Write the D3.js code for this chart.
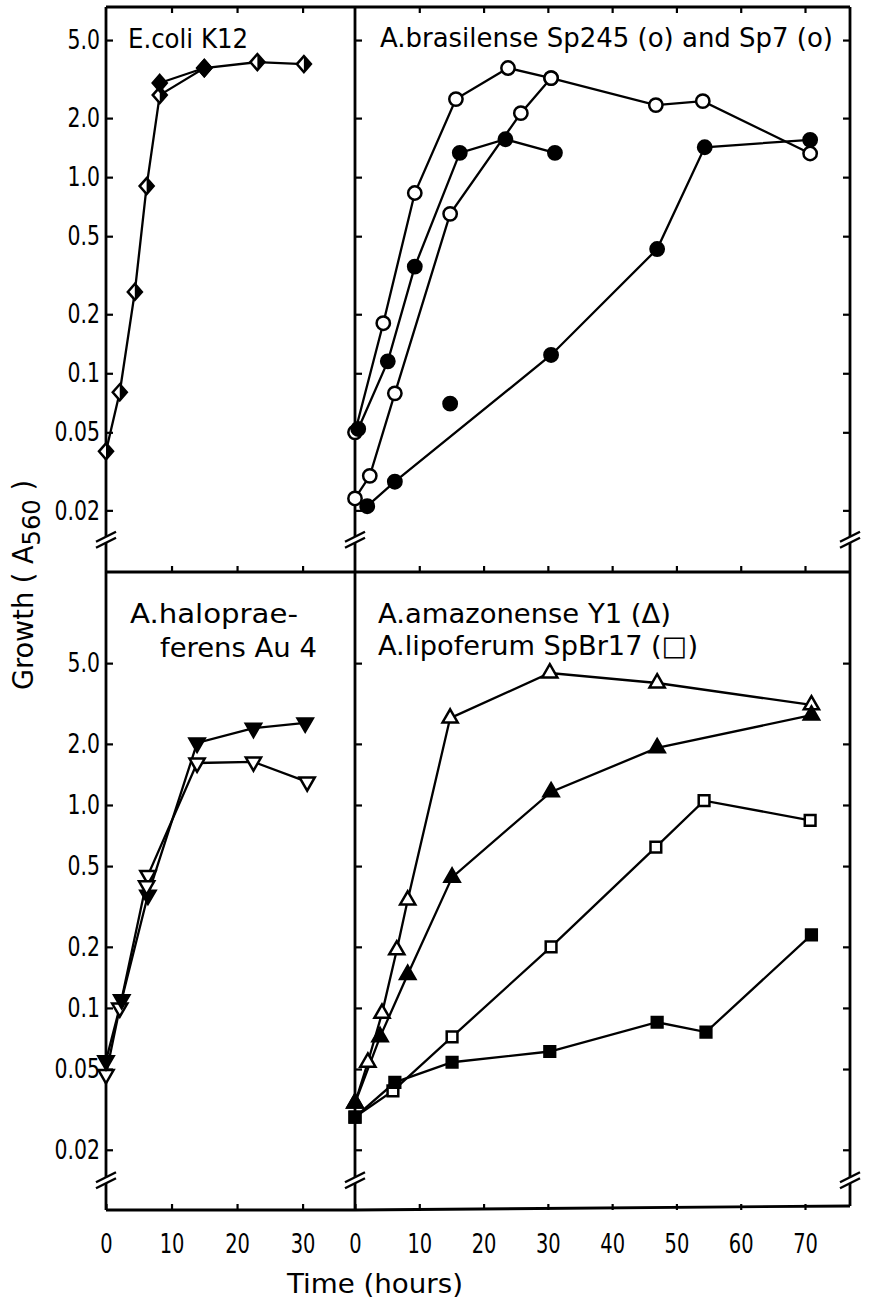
<!DOCTYPE html>
<html>
<head>
<meta charset="utf-8">
<script src="https://cdn.jsdelivr.net/npm/d3@7"></script>
<style>
  body { margin: 0; background: #fff; }
  svg text { font-family: "Liberation Sans Narrow", "DejaVu Sans Condensed", "DejaVu Sans", sans-serif; fill: #000; }
</style>
</head>
<body>
<svg id="chart" width="869" height="1299"></svg>
<script>
// E. coli K12 (half-filled diamonds, plus one filled diamond)
const ecoliHours = [0, 2.1, 4.4, 6.2, 8.2, 15, 23.1, 30.2]
const ecoliGrowth = [0.04, 0.08, 0.26, 0.9, 2.62, 3.6, 3.86, 3.77]
const ecoliBHours = [8.2, 15]
const ecoliBGrowth = [3.02, 3.6]

// A. brasilense Sp245 / Sp7
const brasOpen1Hours = [0, 4.4, 9.3, 15.7, 23.8, 30.5, 46.8, 54.1, 70.8]
const brasOpen1Growth = [0.05, 0.18, 0.83, 2.5, 3.6, 3.2, 2.33, 2.44, 1.32]
const brasOpen2Hours = [0, 2.3, 6.2, 14.8, 25.8, 30.5]
const brasOpen2Growth = [0.023, 0.03, 0.079, 0.65, 2.12, 3.2]
const brasFilled1Hours = [0.5, 5.1, 9.3, 16.3, 23.4, 31.1]
const brasFilled1Growth = [0.052, 0.115, 0.35, 1.33, 1.56, 1.33]
const brasFilled2Hours = [1.9, 6.2, 30.5, 47, 54.4, 70.8]
const brasFilled2Growth = [0.021, 0.028, 0.124, 0.43, 1.42, 1.55]
const brasLoneHours = [14.8]
const brasLoneGrowth = [0.07]

// A. halopraeferens Au4
const haloFilledHours = [0, 2.4, 6.4, 13.9, 22.5, 30.4]
const haloFilledGrowth = [0.055, 0.11, 0.36, 2.02, 2.39, 2.54]
const haloOpenHours = [0, 2.1, 6.4, 13.9, 22.5, 30.7]
const haloOpenGrowth = [0.047, 0.1, 0.45, 1.61, 1.63, 1.3]
const haloExtraHours = [6.2]
const haloExtraGrowth = [0.4]

// A. amazonense Y1 (triangles) and A. lipoferum SpBr17 (squares)
const amazOpenHours = [0, 2.0, 4.2, 6.5, 8.2, 14.8, 30.3, 47, 71]
const amazOpenGrowth = [0.034, 0.054, 0.094, 0.193, 0.34, 2.68, 4.47, 3.99, 3.11]
const amazFilledHours = [0, 3.9, 8.2, 15.1, 30.5, 47, 71]
const amazFilledGrowth = [0.034, 0.072, 0.146, 0.44, 1.16, 1.91, 2.77]
const lipoOpenHours = [0, 5.9, 15.1, 30.5, 46.8, 54.3, 70.8]
const lipoOpenGrowth = [0.029, 0.039, 0.072, 0.2, 0.62, 1.05, 0.84]
const lipoFilledHours = [0, 6.2, 15.1, 30.3, 47, 54.6, 71]
const lipoFilledGrowth = [0.029, 0.043, 0.054, 0.061, 0.085, 0.076, 0.229]

// ticks
const yTickValues = [0.02, 0.05, 0.1, 0.2, 0.5, 1, 2, 5]
const yTickLabels = ['0.02', '0.05', '0.1', '0.2', '0.5', '1.0', '2.0', '5.0']
const xTicksLeft = [0, 10, 20, 30]
const xTicksRight = [0, 10, 20, 30, 40, 50, 60, 70]
const breakValue = 0.014

const frameLeft = 106
const frameMid = 355
const frameRight = 850
const frameTop = 7
const frameSplit = 572
const frameBottom = 1210

const svg = d3.select('#chart')

const xLeft = d3.scaleLinear().domain([0, 38]).range([frameLeft, frameMid])
const xRight = d3.scaleLinear().domain([0, 77]).range([frameMid, frameRight])
const yTop = d3.scaleLog().domain([0.0097, 7.37]).range([frameSplit, frameTop])
const yBottom = d3.scaleLog().domain([0.0101, 14.06]).range([frameBottom, frameSplit])

const zip = (ts, vs) => ts.map((t, i) => ({t, v: vs[i]}))

const panels = [
  {x: xLeft, y: yTop, series: [
    {data: zip(ecoliHours, ecoliGrowth), mark: 'diamondHalf'},
    {data: zip(ecoliBHours, ecoliBGrowth), mark: 'diamondFilled'}
  ]},
  {x: xRight, y: yTop, series: [
    {data: zip(brasOpen1Hours, brasOpen1Growth), mark: 'circleOpen'},
    {data: zip(brasOpen2Hours, brasOpen2Growth), mark: 'circleOpen'},
    {data: zip(brasFilled1Hours, brasFilled1Growth), mark: 'circleFilled'},
    {data: zip(brasFilled2Hours, brasFilled2Growth), mark: 'circleFilled'},
    {data: zip(brasLoneHours, brasLoneGrowth), mark: 'circleFilled', noLine: true}
  ]},
  {x: xLeft, y: yBottom, series: [
    {data: zip(haloOpenHours, haloOpenGrowth), mark: 'triDownOpen'},
    {data: zip(haloFilledHours, haloFilledGrowth), mark: 'triDownFilled'},
    {data: zip(haloExtraHours, haloExtraGrowth), mark: 'triDownOpen', noLine: true}
  ]},
  {x: xRight, y: yBottom, series: [
    {data: zip(amazOpenHours, amazOpenGrowth), mark: 'triUpOpen'},
    {data: zip(amazFilledHours, amazFilledGrowth), mark: 'triUpFilled'},
    {data: zip(lipoOpenHours, lipoOpenGrowth), mark: 'squareOpen'},
    {data: zip(lipoFilledHours, lipoFilledGrowth), mark: 'squareFilled'}
  ]}
]

// squeeze text horizontally so it looks like the narrow typeface of the original
const squeeze = ratio => sel => sel.each(function () {
  const w = this.getComputedTextLength()
  if (w > 0) d3.select(this).attr('textLength', w * ratio).attr('lengthAdjust', 'spacingAndGlyphs')
})

// frame
const frameLines = [
  [frameLeft, frameTop, frameLeft, frameBottom],
  [frameMid, frameTop, frameMid, frameBottom],
  [frameRight, frameTop, frameRight, frameBottom - 4],
  [frameLeft, frameTop, frameRight, frameTop],
  [frameLeft, frameSplit, frameRight, frameSplit],
  [frameLeft, frameBottom, frameMid, frameBottom],
  [frameMid, frameBottom, frameRight, frameBottom - 4]
]
svg.append('g')
  .selectAll('line')
  .data(frameLines)
  .enter()
  .append('line')
  .attr('x1', d => d[0]).attr('y1', d => d[1])
  .attr('x2', d => d[2]).attr('y2', d => d[3])
  .attr('stroke', '#000')
  .attr('stroke-width', 2.8)

const styleAxis = g => {
  g.select('.domain').remove()
  g.selectAll('line').attr('stroke-width', 2.2)
  g.attr('font-size', 27)
}

// y axes
;[yTop, yBottom].forEach(y => {
  svg.append('g')
    .attr('transform', `translate(${frameLeft},0)`)
    .call(d3.axisLeft(y).tickValues(yTickValues).tickFormat((d, i) => yTickLabels[i])
      .tickSizeInner(-7).tickSizeOuter(0).tickPadding(6))
    .call(styleAxis)
    .call(g => g.selectAll('text').call(squeeze(0.84)))
  svg.append('g')
    .attr('transform', `translate(${frameMid},0)`)
    .call(d3.axisRight(y).tickValues(yTickValues).tickFormat('').tickSize(7))
    .call(styleAxis)
  svg.append('g')
    .attr('transform', `translate(${frameRight},0)`)
    .call(d3.axisLeft(y).tickValues(yTickValues).tickFormat('').tickSize(7))
    .call(styleAxis)
})

// x axes
;[[xLeft, xTicksLeft], [xRight, xTicksRight]].forEach(([x, ticks]) => {
  svg.append('g')
    .attr('transform', `translate(0,${frameTop})`)
    .call(d3.axisTop(x).tickValues(ticks.slice(1)).tickFormat('').tickSizeInner(-6).tickSizeOuter(0))
    .call(styleAxis)
  svg.append('g')
    .attr('transform', `translate(0,${frameSplit})`)
    .call(d3.axisBottom(x).tickValues(ticks.slice(1)).tickFormat('').tickSizeInner(-6).tickSizeOuter(0))
    .call(styleAxis)
  svg.append('g')
    .attr('transform', `translate(0,${frameBottom})`)
    .call(d3.axisBottom(x).tickValues(ticks).tickFormat(d3.format('d'))
      .tickSizeInner(-6).tickSizeOuter(0).tickPadding(24))
    .call(styleAxis)
    .call(g => g.selectAll('text').call(squeeze(0.8)))
})

// axis breaks "//"
const breaks = []
;[yTop, yBottom].forEach(y => {
  [frameLeft, frameMid, frameRight].forEach(x => breaks.push({x, y: y(breakValue)}))
})
const breakG = svg.append('g').selectAll('g').data(breaks).enter().append('g')
  .attr('transform', d => `translate(${d.x},${d.y})`)
breakG.append('rect').attr('x', -4).attr('y', -4).attr('width', 8).attr('height', 6).attr('fill', '#fff')
breakG.selectAll('line').data([-4, 2]).enter().append('line')
  .attr('x1', -10).attr('y1', d => d + 5)
  .attr('x2', 10).attr('y2', d => d - 5)
  .attr('stroke', '#000').attr('stroke-width', 2.4)

// markers
const circlePath = d3.symbol(d3.symbolCircle, 140)()
const squarePath = d3.symbol(d3.symbolSquare, 115)()
const triPath = d3.symbol(d3.symbolTriangle, 100)()
const diamondPath = 'M0,-8L7,0L0,8L-7,0Z'
const halfDiamondPath = 'M0,-8L7,0L0,8Z'

const drawMarker = (g, kind) => {
  const open = kind.endsWith('Open') || kind === 'diamondHalf'
  let d = circlePath
  let rot = 0
  if (kind.startsWith('square')) d = squarePath
  if (kind.startsWith('triUp')) d = triPath
  if (kind.startsWith('triDown')) { d = triPath; rot = 180 }
  if (kind.startsWith('diamond')) d = diamondPath
  g.append('path')
    .attr('d', d)
    .attr('transform', `rotate(${rot})`)
    .attr('fill', open ? '#fff' : '#000')
    .attr('stroke', '#000')
    .attr('stroke-width', 2.5)
  if (kind === 'diamondHalf') {
    g.append('path').attr('d', halfDiamondPath).attr('fill', '#000')
  }
}

panels.forEach(p => {
  const line = d3.line().x(d => p.x(d.t)).y(d => p.y(d.v))
  const g = svg.append('g')
  p.series.filter(s => !s.noLine).forEach(s => {
    g.append('path')
      .attr('d', line(s.data))
      .attr('fill', 'none')
      .attr('stroke', '#000')
      .attr('stroke-width', 2.3)
  })
  p.series.forEach(s => {
    g.selectAll(null)
      .data(s.data)
      .enter()
      .append('g')
      .attr('transform', d => `translate(${p.x(d.t)},${p.y(d.v)})`)
      .each(function () { drawMarker(d3.select(this), s.mark) })
  })
})

// panel titles
const titles = [
  {x: 128, y: 48, text: 'E.coli K12', len: 120},
  {x: 380, y: 47, text: 'A.brasilense  Sp245 (o) and  Sp7 (o)', len: 453},
  {x: 130, y: 623, text: 'A.halopraе-', len: 168},
  {x: 160, y: 657, text: 'ferens  Au 4', len: 157},
  {x: 378, y: 623, text: 'A.amazonense  Y1 (Δ)', len: 293},
  {x: 378, y: 655, text: 'A.lipoferum  SpBr17 (□)', len: 320}
]
svg.append('g')
  .selectAll('text')
  .data(titles)
  .enter()
  .append('text')
  .attr('x', d => d.x)
  .attr('y', d => d.y)
  .attr('font-size', 27)
  .attr('textLength', d => d.len)
  .attr('lengthAdjust', 'spacingAndGlyphs')
  .text(d => d.text)

// axis labels
const yLabel = svg.append('text')
  .attr('transform', 'translate(33,585) rotate(-90)')
  .attr('text-anchor', 'middle')
  .attr('font-size', 28)
  .attr('textLength', 210)
  .attr('lengthAdjust', 'spacingAndGlyphs')
yLabel.append('tspan').text('Growth ( A')
yLabel.append('tspan').attr('dy', 7).attr('font-size', 25).text('560')
yLabel.append('tspan').attr('dy', -7).text(' )')

svg.append('text')
  .attr('x', 375)
  .attr('y', 1293)
  .attr('text-anchor', 'middle')
  .attr('font-size', 27)
  .attr('textLength', 176)
  .attr('lengthAdjust', 'spacingAndGlyphs')
  .text('Time (hours)')
</script>
</body>
</html>
